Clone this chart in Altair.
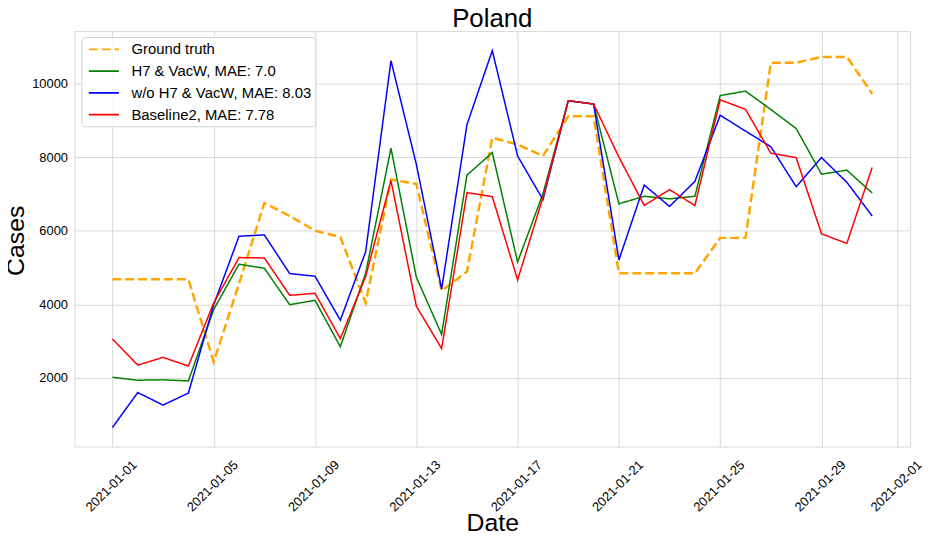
import altair as alt
import pandas as pd

dates = pd.date_range("2021-01-01", "2021-01-31", freq="D").strftime("%Y-%m-%d").tolist()

chart_title = ["Poland"]
series_names = [
    "Ground truth",
    "H7 & VacW, MAE: 7.0",
    "w/o H7 & VacW, MAE: 8.03",
    "Baseline2, MAE: 7.78",
]
series_colors = ["#FFA500", "#008000", "#0000FF", "#FF0000"]

ground_truth = [4680, 4680, 4680, 4680, 2440, 4560, 6750, 6400, 6000, 5830,
                4040, 7390, 7270, 4370, 4890, 8520, 8340, 8030, 9110, 9110,
                4845, 4845, 4845, 4845, 5805, 5805, 10560, 10560, 10720, 10720,
                9720]
h7_vacw = [2020, 1940, 1950, 1920, 3860, 5090, 4980, 3990, 4110, 2850,
           4845, 8240, 4740, 3185, 7510, 8120, 5150, 7000, 9530, 9440,
           6730, 6935, 6865, 6935, 9670, 9790, 9290, 8775, 7535, 7645,
           7025]
wo_h7_vacw = [655, 1605, 1265, 1590, 3990, 5850, 5885, 4835, 4765, 3570,
              5430, 10615, 7805, 4415, 8880, 10890, 8030, 6845, 9530, 9440,
              5205, 7240, 6660, 7340, 9135, 8705, 8280, 7195, 7985, 7315,
              6400]
baseline2 = [3060, 2350, 2560, 2325, 4040, 5270, 5260, 4245, 4300, 3070,
             4755, 7360, 3950, 2800, 7035, 6925, 4665, 6900, 9530, 9440,
             8000, 6685, 7115, 6685, 9555, 9295, 8105, 7985, 5915, 5655,
             7715]

y_ticks = [2000, 4000, 6000, 8000, 10000]
x_tick_days = [(2021, 1, 1), (2021, 1, 5), (2021, 1, 9), (2021, 1, 13), (2021, 1, 17),
               (2021, 1, 21), (2021, 1, 25), (2021, 1, 29), (2021, 2, 1)]

rows = []
for name, vals in zip(series_names, [ground_truth, h7_vacw, wo_h7_vacw, baseline2]):
    for d, v in zip(dates, vals):
        rows.append({"date": d, "cases": v, "series": name})
df = pd.DataFrame(rows)

FONT = "Liberation Sans"
GRID = "#d9d9d9"
W, H = 843, 419

x_enc = alt.X(
    "date:T",
    scale=alt.Scale(
        type="utc",
        domain=[alt.DateTime(year=2020, month=12, date=30, hours=12, utc=True),
                alt.DateTime(year=2021, month=2, date=1, hours=12, utc=True)],
        nice=False,
    ),
    axis=alt.Axis(
        title="Date",
        values=[alt.DateTime(year=y, month=m, date=d, utc=True) for (y, m, d) in x_tick_days],
        labelExpr="utcFormat(datum.value, '%Y-%m-%d')",
        labelAngle=-45,
        labelAlign="right",
        labelBaseline="middle",
        labelOffset=22,
        labelPadding=16,
        labelFontSize=13,
        labelFont=FONT,
        labelColor="#000000",
        labelOverlap=False,
        labelFlush=False,
        labelBound=False,
        tickSize=0,
        domain=False,
        grid=True,
        gridColor=GRID,
        gridWidth=1,
        titleFont=FONT,
        titleFontSize=25,
        titleFontWeight="normal",
        titleColor="#000000",
        titleX=W / 2,
        titleY=85,
        titleBaseline="alphabetic",
        titleAlign="center",
    ),
)

y_enc = alt.Y(
    "cases:Q",
    scale=alt.Scale(domain=[140, 11420], nice=False, zero=False),
    axis=alt.Axis(
        title="Cases",
        values=y_ticks,
        format="d",
        labelFontSize=13,
        labelFont=FONT,
        labelColor="#000000",
        labelPadding=7,
        tickSize=0,
        domain=False,
        grid=True,
        gridColor=GRID,
        gridWidth=1,
        titleFont=FONT,
        titleFontSize=25,
        titleFontWeight="normal",
        titleColor="#000000",
        titleAngle=-90,
        titleX=-59,
        titleY=211,
        titleBaseline="middle",
        titleAlign="center",
    ),
)

legend = alt.Legend(
    title=None,
    orient="none",
    legendX=7,
    legendY=6,
    labelFont=FONT,
    labelFontSize=15,
    labelColor="#000000",
    labelLimit=0,
    symbolType="M-1,0L2.8,0",
    symbolSize=256,
    symbolStrokeWidth=1.8,
    symbolOffset=3,
    labelOffset=26,
    rowPadding=4.9,
    padding=3.5,
    fillColor="rgba(255,255,255,0.85)",
    strokeColor="#d0d0d0",
    cornerRadius=4,
)

lines = alt.Chart(df).mark_line(interpolate="linear").encode(
    x=x_enc,
    y=y_enc,
    color=alt.Color("series:N", scale=alt.Scale(domain=series_names, range=series_colors), legend=legend),
    strokeDash=alt.StrokeDash("series:N", scale=alt.Scale(domain=series_names,
                                                           range=[[9, 4], [1, 0], [1, 0], [1, 0]]), legend=legend),
    strokeWidth=alt.condition(alt.datum.series == "Ground truth", alt.value(2.5), alt.value(1.5)),
    order=alt.Order("date:T"),
)

title_text = alt.Chart(pd.DataFrame({"t": chart_title})).mark_text(
    font=FONT, fontSize=26, color="#000000", align="center", baseline="alphabetic", clip=False
).encode(
    text="t:N",
    x=alt.value(W / 2),
    y=alt.value(-4),
)

chart = alt.layer(lines, title_text).properties(
    width=W,
    height=H,
    autosize=alt.AutoSizeParams(type="none"),
    padding={"left": 67, "top": 21, "right": 17, "bottom": 91},
).configure_view(
    stroke=GRID,
    strokeWidth=1,
)

chart.save("out.html", embed_options={"renderer": "svg", "actions": False})
